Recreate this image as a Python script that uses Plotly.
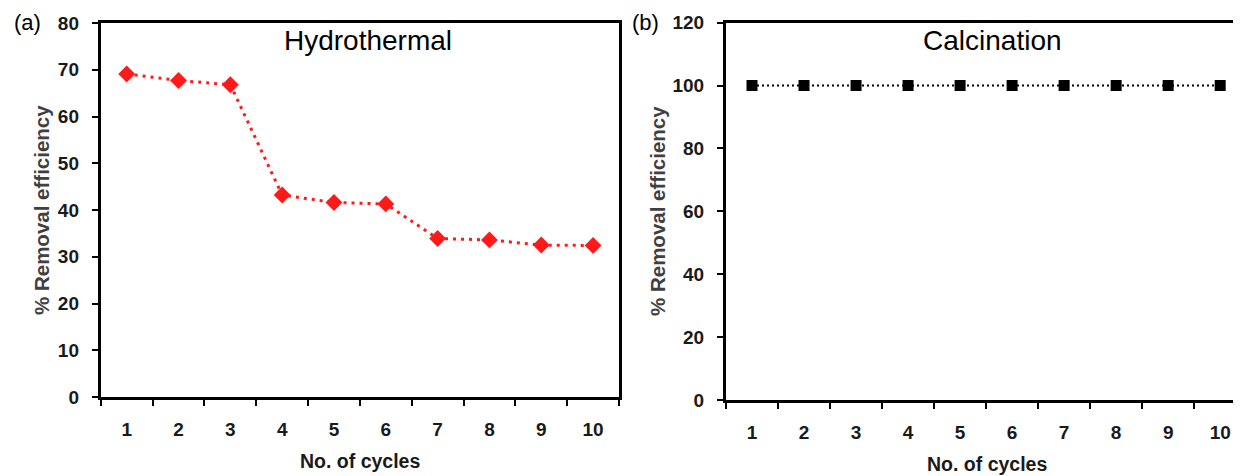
import plotly.graph_objects as go

cycles = ["1", "2", "3", "4", "5", "6", "7", "8", "9", "10"]
hydrothermal = [69.1, 67.7, 66.8, 43.2, 41.6, 41.3, 33.9, 33.6, 32.5, 32.4]
calcination = [100, 100, 100, 100, 100, 100, 100, 100, 100, 100]
yticks_a = [0, 10, 20, 30, 40, 50, 60, 70, 80]
yticks_b = [0, 20, 40, 60, 80, 100, 120]

# page body adds an 8px offset; work in reference pixel coordinates
OX, OY = 8, 8
W, H = 1241 - OX, 476 - OY
FONT = "Liberation Sans, Arial, sans-serif"

def px(x):
    return (x - OX) / W

def py(y):
    return 1 - (y - OY) / H

fig = go.Figure()
fig.add_trace(go.Scatter(
    x=cycles, y=hydrothermal, mode="lines+markers",
    line=dict(color="#ff1a1a", width=3, dash="3px,5px"),
    marker=dict(symbol="diamond", size=13, color="#ff1a1a"),
    xaxis="x", yaxis="y", showlegend=False))
fig.add_trace(go.Scatter(
    x=cycles, y=calcination, mode="lines+markers",
    line=dict(color="black", width=2, dash="2px,3px"),
    marker=dict(symbol="square", size=11, color="black"),
    xaxis="x2", yaxis="y2", showlegend=False))

tickfont = dict(family=FONT, size=19, color="#1a1a1a", weight="bold")
common_x = dict(type="category", tickson="boundaries", ticks="outside", ticklen=6,
                tickwidth=2, tickcolor="black", showline=True, linecolor="black",
                linewidth=3, showgrid=False, zeroline=False, tickfont=tickfont,
                ticklabelstandoff=13, automargin=False)
common_y = dict(ticks="outside", ticklen=6, tickwidth=2, tickcolor="black",
                showline=True, linecolor="black", linewidth=3, showgrid=False,
                zeroline=False, tickfont=tickfont, ticklabelstandoff=9,
                automargin=False)

fig.update_layout(
    width=W, height=H, margin=dict(l=0, r=0, t=0, b=0),
    plot_bgcolor="white", paper_bgcolor="white",
    xaxis=dict(domain=[px(100.8), px(619)], range=[-0.5, 9.5], anchor="y",
               mirror=True, **common_x),
    yaxis=dict(domain=[py(397), py(23)], range=[0, 80],
               tickvals=yticks_a, anchor="x", mirror=True, **common_y),
    xaxis2=dict(domain=[px(726), 1.0], range=[-0.5, 9.4], anchor="y2",
                mirror=True, **common_x),
    yaxis2=dict(domain=[py(400), py(22.7)], range=[0, 120],
                tickvals=yticks_b, anchor="x2", mirror=False, **common_y),
)

def ann(text, x, y, size, bold=False, color="black", angle=0):
    fig.add_annotation(text=("<b>%s</b>" % text) if bold else text,
                       x=px(x), y=py(y), xref="paper", yref="paper",
                       showarrow=False, textangle=angle,
                       font=dict(family=FONT, size=size, color=color),
                       xanchor="center", yanchor="middle")

ann("Hydrothermal", 368, 41, 28)
ann("Calcination", 993, 41, 28)
ann("(a)", 27, 22, 22)
ann("(b)", 645, 22, 22)
ann("% Removal efficiency", 41, 210, 20.5, bold=True, color="#404040", angle=-90)
ann("% Removal efficiency", 657, 211, 20.5, bold=True, color="#404040", angle=-90)
ann("No. of cycles", 360, 461, 19.5, bold=True, color="#1a1a1a")
ann("No. of cycles", 987, 464, 19.5, bold=True, color="#1a1a1a")

fig.write_html("out.html")
